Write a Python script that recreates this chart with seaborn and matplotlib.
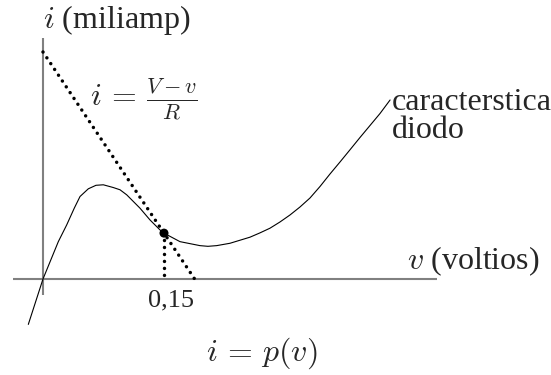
import matplotlib
matplotlib.use("Agg")
import matplotlib.pyplot as plt
import seaborn as sns

# Diode characteristic i = p(v): v in volts, i in mA
diode_v = [-0.0182, 0.0, 0.0190, 0.0294, 0.0388, 0.0459, 0.0562, 0.0657,
           0.0748, 0.0871, 0.0955, 0.1038, 0.1202, 0.1326, 0.1450, 0.1500,
           0.1698, 0.1946, 0.2045, 0.2153, 0.2318, 0.2566, 0.2690, 0.2814,
           0.2938, 0.3062, 0.3186, 0.3310, 0.3434, 0.3558, 0.3682, 0.3806,
           0.3930, 0.4054, 0.4178, 0.4303]
diode_i = [-1.00, 0.0, 0.823, 1.192, 1.561, 1.817, 1.987, 2.064,
           2.075, 2.015, 1.965, 1.854, 1.561, 1.302, 1.082, 1.010,
           0.823, 0.735, 0.720, 0.735, 0.787, 0.921, 1.016, 1.119,
           1.256, 1.410, 1.586, 1.784, 2.037, 2.313, 2.577, 2.846,
           3.117, 3.381, 3.645, 3.943]

# Load line i = (V - v) / R
V_supply = 0.188      # volts
R_load = 0.0376       # kilo-ohms
v_op = 0.15           # operating-point voltage
i_op = (V_supply - v_op) / R_load

load_v = [0.0, V_supply]
load_i = [V_supply / R_load, 0.0]

sns.set_theme(style="white")
plt.rcParams["font.family"] = ["Liberation Serif", "DejaVu Serif"]
plt.rcParams["mathtext.fontset"] = "cm"

fig = plt.figure(figsize=(5.51, 3.75), dpi=100)
ax = fig.add_axes([0, 0, 1, 1])
ax.set_xlim(-0.0533, 0.6298)
ax.set_ylim(-2.1145, 6.1454)
ax.axis("off")

# coordinate axes
axis_color = "#808080"
ax.plot([-0.0372, 0.4884], [0, 0], color=axis_color, lw=1.5,
        solid_capstyle="butt", zorder=1)
ax.plot([0, 0], [-0.352, 5.31], color=axis_color, lw=1.5,
        solid_capstyle="butt", zorder=1)

# diode curve
sns.lineplot(x=diode_v, y=diode_i, sort=False, estimator=None,
             color="black", lw=0.8, ax=ax, zorder=3)

# load line and projection of operating point, dotted
dot_style = dict(color="black", lw=2.5, linestyle=(0, (0.01, 2.0)),
                 dash_capstyle="round")
sns.lineplot(x=load_v, y=load_i, sort=False, estimator=None, ax=ax,
             zorder=2, **dot_style)
sns.lineplot(x=[v_op, v_op], y=[i_op, 0.0], sort=False, estimator=None,
             ax=ax, zorder=2, **dot_style)

# operating point
sns.scatterplot(x=[v_op], y=[i_op], s=42, color="black", edgecolor="none",
                ax=ax, zorder=5)

W, H = 551.0, 375.0
def px(x, y):
    return x / W, 1 - y / H

fs = 23
ax.text(*px(43, 28), r"$i$ (miliamp)", fontsize=fs, ha="left",
        va="baseline", transform=ax.transAxes)
ax.text(*px(90, 99), r"$i\,=\,\frac{V-v}{R}$", fontsize=fs, ha="left",
        va="center", transform=ax.transAxes)
ax.text(*px(392, 110), "caracterstica", fontsize=fs, ha="left",
        va="baseline", transform=ax.transAxes)
ax.text(*px(392, 138), "diodo", fontsize=fs, ha="left",
        va="baseline", transform=ax.transAxes)
ax.text(*px(407, 269), r"$v$ (voltios)", fontsize=fs, ha="left",
        va="baseline", transform=ax.transAxes)
ax.text(*px(171, 300.5), "0,15", fontsize=19, ha="center",
        va="center", transform=ax.transAxes)
ax.text(*px(262, 353), r"$i\,=\,p(v)$", fontsize=fs, ha="center",
        va="center", transform=ax.transAxes)

fig.savefig("out.png", dpi=100, facecolor="white")
